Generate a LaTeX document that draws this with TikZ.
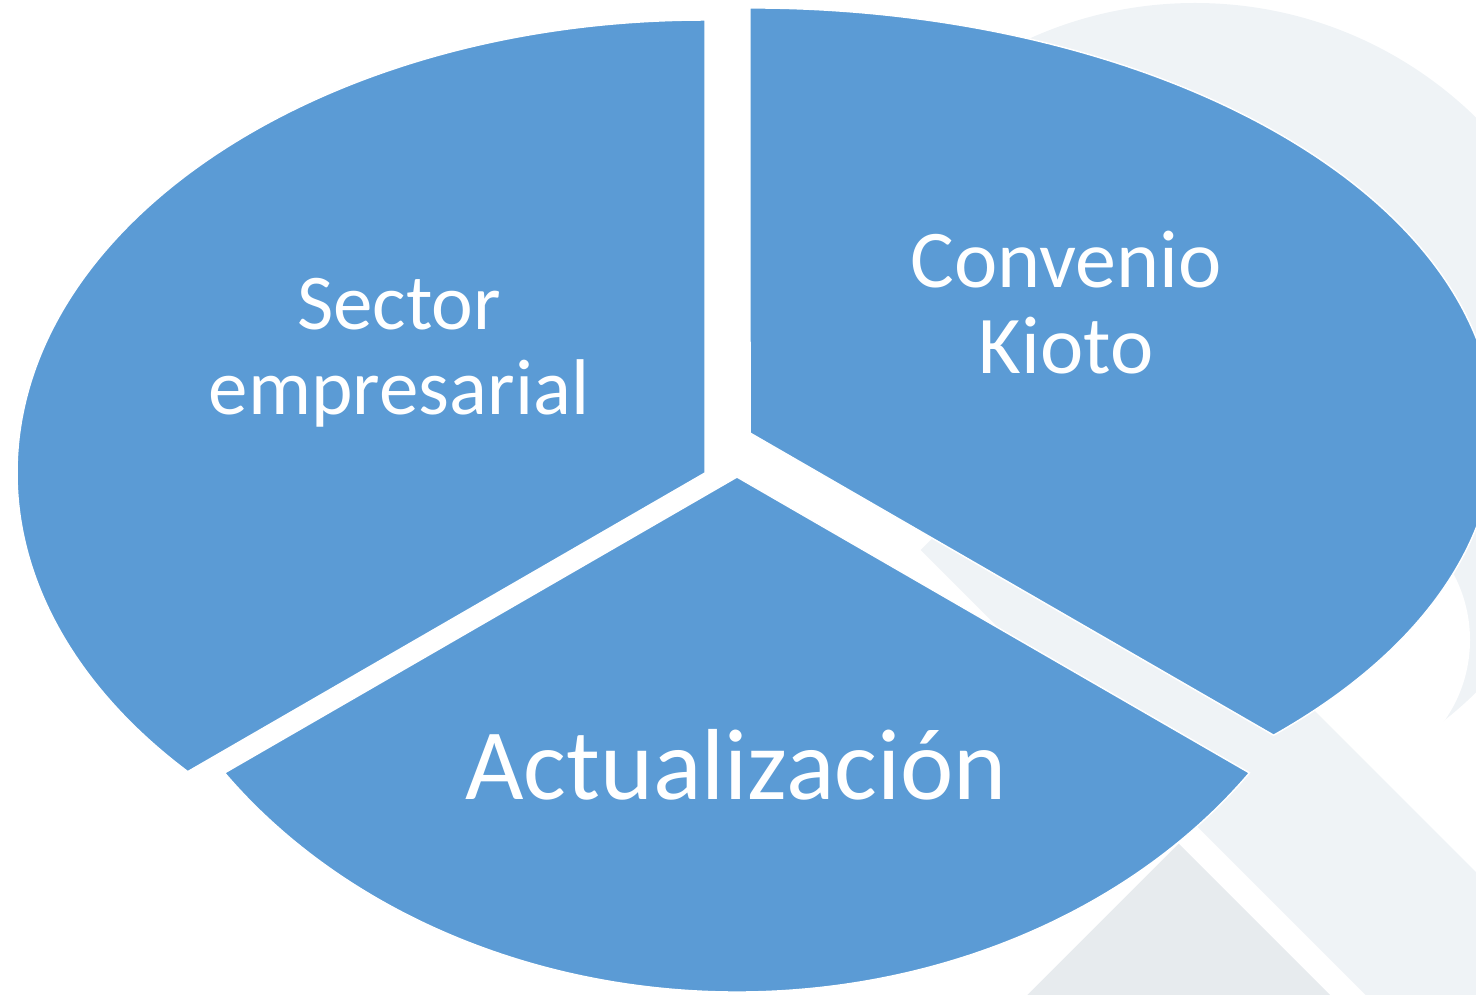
\documentclass[tikz,border=0pt]{standalone}
\usepackage{fontspec}
\setmainfont{Carlito}
\definecolor{pieblue}{HTML}{5B9BD5}
\definecolor{marklight}{HTML}{EFF3F6}
\definecolor{markdark}{HTML}{E7EBEE}
\begin{document}
\begin{tikzpicture}[x=1pt,y=1pt,
piece/.style={fill=pieblue,draw=white,line width=1.5pt},
piecetext/.style={text=white,align=center,inner sep=0pt,anchor=base}]
\useasboundingbox (0,0) rectangle (1476,994);
\clip (0,0) rectangle (1476,994);

\begin{scope}
\clip (604,994) -- (1476,994) -- (1476,122) -- cycle;
\fill[marklight] (1195,589) circle[radius=402pt];
\end{scope}
\fill[white] (1330,354) circle[radius=140pt];
\fill[marklight] (920.6,443.9) -- (1037.3,560.5) -- (1857.6,-259.7) -- (1740.9,-376.4) -- cycle;
\fill[markdark] (1178.7,150.4) -- (1723.2,-394) -- (1414.2,-703) -- (869.7,-158.6) -- cycle;

\filldraw[piece] (705,521) -- (705,974)
  arc[start angle=90,end angle=221.25,x radius=688pt,y radius=453pt] -- cycle;

\filldraw[piece] (750,561) -- (1273.6,258.8)
  arc[start angle=-45.34,end angle=90,x radius=745pt,y radius=425pt] -- cycle;

\filldraw[piece] (737,517) -- (224.6,221.1)
  arc[start angle=215.06,end angle=324.94,x radius=626pt,y radius=515pt] -- cycle;

\node[piecetext,font=\fontsize{79}{85}\selectfont] (sector) at (399,579) {Sector\\empresarial};

\node[piecetext,font=\fontsize{82}{86}\selectfont] (kioto) at (1066,620) {Convenio\\Kioto};

\node[piecetext,font=\fontsize{101}{107}\selectfont] (update) at (736,194) {Actualización};
\end{tikzpicture}
\end{document}
